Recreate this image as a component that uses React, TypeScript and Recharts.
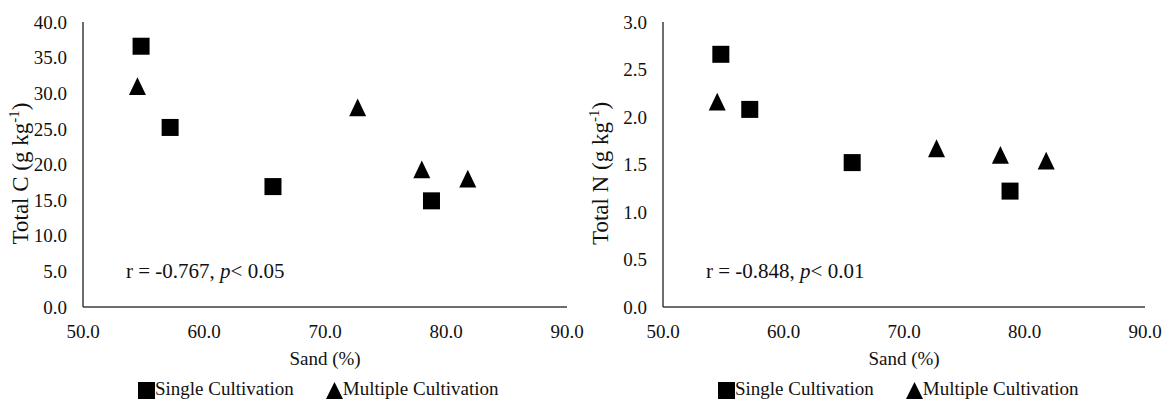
import { ScatterChart, Scatter, XAxis, YAxis, Legend } from 'recharts';

const sandSingle = [54.8, 57.2, 65.7, 78.8];
const sandMultiple = [54.5, 72.7, 78.0, 81.8];
const carbonSingle = [36.6, 25.2, 16.9, 14.9];
const carbonMultiple = [31.0, 28.0, 19.3, 18.0];
const nitrogenSingle = [2.66, 2.08, 1.52, 1.22];
const nitrogenMultiple = [2.16, 1.67, 1.6, 1.54];

const sandTicks = [50, 60, 70, 80, 90];
const carbonTicks = [0, 5, 10, 15, 20, 25, 30, 35, 40];
const nitrogenTicks = [0, 0.5, 1, 1.5, 2, 2.5, 3];

const seriesNames = ['Single Cultivation', 'Multiple Cultivation'];

const font = '"Liberation Serif", "Times New Roman", serif';
const ink = '#111';

const toPoints = (xs: number[], ys: number[]) => xs.map((x, i) => ({ sand: x, value: ys[i] }));

const SquareShape = (p: any) => (
  <rect x={p.cx - 8.5} y={p.cy - 8.5} width={17} height={17} fill="#000" />
);

const TriangleShape = (p: any) => (
  <polygon
    points={`${p.cx},${p.cy - 9} ${p.cx + 8.5},${p.cy + 8.8} ${p.cx - 8.5},${p.cy + 8.8}`}
    fill="#000"
  />
);

const LegendContent = () => (
  <div
    style={{
      display: 'flex',
      alignItems: 'center',
      paddingLeft: 138,
      paddingTop: 6,
      height: 24,
      fontFamily: font,
      fontSize: 19,
      color: ink,
    }}
  >
    <svg width={17} height={17} style={{ marginTop: 3 }}>
      <rect x={0} y={0} width={17} height={17} fill="#000" />
    </svg>
    <span style={{ marginRight: 32 }}>{seriesNames[0]}</span>
    <svg width={17} height={17} style={{ marginTop: 3 }}>
      <polygon points="8.5,0 17,17 0,17" fill="#000" />
    </svg>
    <span>{seriesNames[1]}</span>
  </div>
);

interface PanelProps {
  nutrient: string;
  single: number[];
  multiple: number[];
  yTicks: number[];
  r: string;
  p: string;
  width: number;
}

function Panel({ nutrient, single, multiple, yTicks, r, p, width }: PanelProps) {
  const yMax = yTicks[yTicks.length - 1];

  const yLabel = (props: any) => {
    const vb = props.viewBox;
    const cx = vb.x + 28;
    const cy = vb.y + vb.height / 2 + 9;
    return (
      <text
        x={cx}
        y={cy}
        transform={`rotate(-90 ${cx} ${cy})`}
        textAnchor="middle"
        fontFamily={font}
        fontSize={23}
        fill={ink}
      >
        {`Total ${nutrient} (g kg`}
        <tspan dy={-9} fontSize={15}>-1</tspan>
        <tspan dy={9}>)</tspan>
      </text>
    );
  };

  const xLabel = (props: any) => {
    const vb = props.viewBox;
    return (
      <text
        x={vb.x + vb.width / 2}
        y={vb.y + 58}
        textAnchor="middle"
        fontFamily={font}
        fontSize={19}
        fill={ink}
      >
        Sand (%)
      </text>
    );
  };

  return (
    <ScatterChart
      width={width}
      height={401}
      margin={{ top: 22, right: 17, bottom: 0, left: 0 }}
      style={{ fontFamily: font }}
    >
      <XAxis
        type="number"
        dataKey="sand"
        domain={[50, 90]}
        ticks={sandTicks}
        tickFormatter={(v: number) => v.toFixed(1)}
        tick={{ fill: ink, fontSize: 19, fontFamily: font }}
        tickLine={false}
        tickSize={0}
        tickMargin={18}
        axisLine={{ stroke: '#3c3c3c', strokeWidth: 1.5 }}
        height={64}
        label={xLabel}
      />
      <YAxis
        type="number"
        dataKey="value"
        domain={[0, yMax]}
        ticks={yTicks}
        tickFormatter={(v: number) => v.toFixed(1)}
        tick={{ fill: ink, fontSize: 19, fontFamily: font }}
        tickLine={false}
        tickSize={0}
        tickMargin={16}
        axisLine={{ stroke: '#3c3c3c', strokeWidth: 1.5 }}
        width={83}
        label={yLabel}
      />
      <Legend verticalAlign="bottom" height={30} content={LegendContent} />
      <Scatter
        name={seriesNames[0]}
        data={toPoints(sandSingle, single)}
        shape={SquareShape}
        fill="#000"
        isAnimationActive={false}
      />
      <Scatter
        name={seriesNames[1]}
        data={toPoints(sandMultiple, multiple)}
        shape={TriangleShape}
        fill="#000"
        isAnimationActive={false}
      />
      <text x={126} y={278} fontFamily={font} fontSize={21} fill={ink}>
        {`r = ${r}, `}
        <tspan fontStyle="italic">p</tspan>
        {`< ${p}`}
      </text>
    </ScatterChart>
  );
}

export default function App() {
  return (
    <div style={{ position: 'absolute', left: 0, top: 0, width: 1169, height: 401, background: '#fff' }}>
      <div style={{ position: 'absolute', left: 0, top: 0 }}>
        <Panel
          nutrient="C"
          single={carbonSingle}
          multiple={carbonMultiple}
          yTicks={carbonTicks}
          r="-0.767"
          p="0.05"
          width={584}
        />
      </div>
      <div style={{ position: 'absolute', left: 580, top: 0 }}>
        <Panel
          nutrient="N"
          single={nitrogenSingle}
          multiple={nitrogenMultiple}
          yTicks={nitrogenTicks}
          r="-0.848"
          p="0.01"
          width={582}
        />
      </div>
    </div>
  );
}
